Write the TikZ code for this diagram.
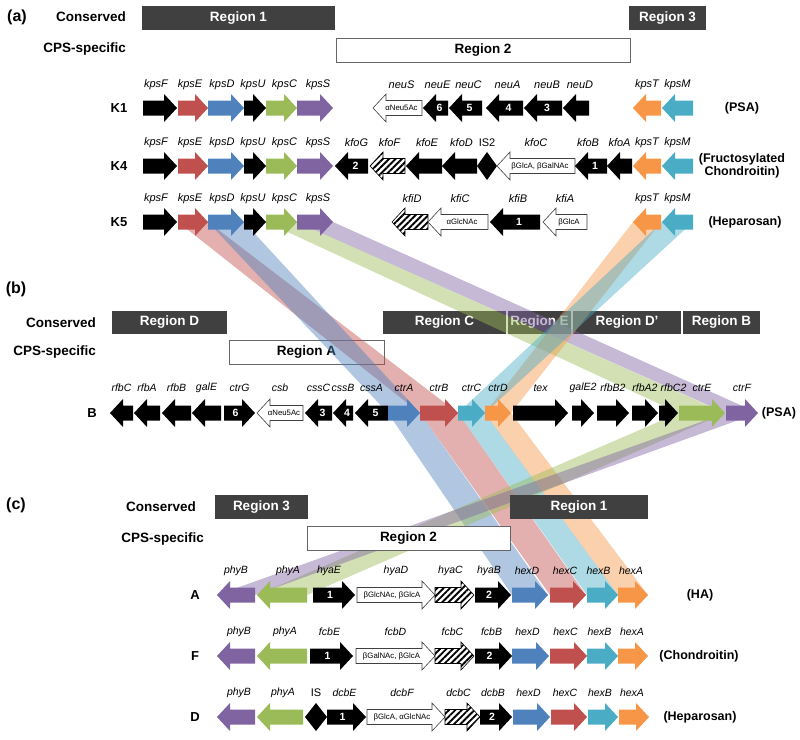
\documentclass[tikz,border=0pt]{standalone}
\usepackage{fontspec}
\setmainfont{Liberation Sans}
\usetikzlibrary{patterns.meta}

\definecolor{kred}{RGB}{192,80,77}
\definecolor{kblue}{RGB}{79,129,189}
\definecolor{kgreen}{RGB}{155,187,89}
\definecolor{kpurple}{RGB}{128,100,162}
\definecolor{kteal}{RGB}{75,172,198}
\definecolor{korange}{RGB}{247,150,70}
\definecolor{kdark}{RGB}{64,64,64}

\pgfdeclarelayer{boxb}
\pgfdeclarelayer{bands}
\pgfsetlayers{boxb,bands,main}

\tikzset{
  gtext/.style={inner sep=0pt, text=white, font=\fontsize{10.5}{10.5}\selectfont\bfseries},
  gname/.style={inner sep=0pt, font=\fontsize{11}{12}\selectfont\itshape},
  isname/.style={inner sep=0pt, font=\fontsize{11}{12}\selectfont},
  blk/.style={fill=black},
  hollow/.style={fill=white, draw=black!75, line width=0.6pt},
  hatch/.style={draw=black, line width=0.6pt, preaction={fill=white},
    pattern={Lines[angle=45,distance=4.5pt,line width=1.9pt]}},
  cons/.style={fill=kdark, text=white, inner sep=0pt, minimum height=24pt,
    font=\fontsize{13.5}{14}\selectfont\bfseries},
  spec/.style={fill=white, draw=black!60, line width=0.8pt, inner sep=0pt,
    minimum height=24pt, font=\fontsize{13.5}{14}\selectfont\bfseries},
  tag/.style={inner sep=0pt, font=\fontsize{13.5}{14}\selectfont\bfseries},
  strain/.style={inner sep=0pt, font=\fontsize{13}{14}\selectfont\bfseries},
  poly/.style={inner sep=0pt, align=center, font=\fontsize{12.5}{13.5}\selectfont\bfseries},
  panel/.style={inner sep=0pt, font=\fontsize{16}{16}\selectfont\bfseries}
}

\def\lift{23}
\newcommand{\sug}[1]{{\color{black}\fontsize{7.8}{8}\selectfont\mdseries #1}}
% right pointing gene: [label shift] name, x1, x2, y, style, inside, label
\newcommand{\genr}[8][0]{%
  \fill[#6] (#3,#5-7.5) -- (#4-13,#5-7.5) -- (#4-13,#5-14) -- (#4,#5)
    -- (#4-13,#5+14) -- (#4-13,#5+7.5) -- (#3,#5+7.5) -- cycle;
  \coordinate (#2-a) at (#3,#5);
  \coordinate (#2-b) at (#4,#5);
  \node[gtext] (#2) at ({(#3+#4)/2-4},#5) {#7};
  \node[gname] (#2-t) at ({(#3+#4)/2+#1},#5-\lift) {#8};
}
% left pointing gene
\newcommand{\genl}[8][0]{%
  \fill[#6] (#4,#5-7.5) -- (#3+13,#5-7.5) -- (#3+13,#5-14) -- (#3,#5)
    -- (#3+13,#5+14) -- (#3+13,#5+7.5) -- (#4,#5+7.5) -- cycle;
  \coordinate (#2-a) at (#3,#5);
  \coordinate (#2-b) at (#4,#5);
  \node[gtext] (#2) at ({(#3+#4)/2+4},#5) {#7};
  \node[gname] (#2-t) at ({(#3+#4)/2+#1},#5-\lift) {#8};
}
% insertion sequence
\newcommand{\insq}[5]{%
  \fill[blk] (#2,#4) -- ({(#2+#3)/2},#4-14) -- (#3,#4) -- ({(#2+#3)/2},#4+14) -- cycle;
  \coordinate (#1) at ({(#2+#3)/2},#4);
  \node[isname] (#1-t) at ({(#2+#3)/2},#4-\lift) {#5};
}
\newcommand{\gband}[3]{%
  \fill[#1, fill opacity=0.45] (#2-a) -- (#2-b) -- (#3-b) -- (#3-a) -- cycle;
}

\begin{document}
\begin{tikzpicture}[x=1pt,y=-1pt]
\useasboundingbox (0,0) rectangle (800,739);

% (a)
\node[panel] (pa) at (17,17) {(a)};
\node[tag, anchor=east] (ca) at (126,17) {Conserved};
\node[tag, anchor=east] (sa) at (126,49) {CPS-specific};
\node[cons, minimum width=193pt] (a1) at (238.5,18) {Region 1};
\node[cons, minimum width=77pt] (a3) at (667.5,18) {Region 3};
\node[spec, minimum width=294pt] (a2) at (483,50) {Region 2};

\node[strain] (k1) at (119,108) {K1};
\node[poly] (k1p) at (742,108) {(PSA)};
\genr[-4]{k1-kpsF}{143}{177}{108}{blk}{}{kpsF}
\genr[-3]{k1-kpsE}{178}{208}{108}{fill=kred}{}{kpsE}
\genr[-4]{k1-kpsD}{208}{244}{108}{fill=kblue}{}{kpsD}
\genr[-2]{k1-kpsU}{244}{266}{108}{blk}{}{kpsU}
\genr[3]{k1-kpsC}{266}{297}{108}{fill=kgreen}{}{kpsC}
\genr[3]{k1-kpsS}{297}{333}{108}{fill=kpurple}{}{kpsS}
\genl[4]{k1-neuS}{373}{422}{108}{hollow}{\sug{αNeu5Ac}}{neuS}
\genl[2]{k1-neuE}{423}{448}{108}{blk}{6}{neuE}
\genl[3]{k1-neuC}{449}{482}{108}{blk}{5}{neuC}
\genl[3]{k1-neuA}{486}{523}{108}{blk}{4}{neuA}
\genl[4]{k1-neuB}{524}{562}{108}{blk}{3}{neuB}
\genl[4]{k1-neuD}{563}{589}{108}{blk}{}{neuD}
\genl{k1-kpsT}{633}{661}{108}{fill=korange}{}{kpsT}
\genl{k1-kpsM}{662}{693}{108}{fill=kteal}{}{kpsM}

\node[strain] (k4) at (119,166) {K4};
\node[poly] (k4p) at (742,166) {(Fructosylated\\Chondroitin)};
\genr[-4]{k4-kpsF}{143}{177}{166}{blk}{}{kpsF}
\genr[-3]{k4-kpsE}{178}{208}{166}{fill=kred}{}{kpsE}
\genr[-4]{k4-kpsD}{208}{244}{166}{fill=kblue}{}{kpsD}
\genr[-2]{k4-kpsU}{244}{266}{166}{blk}{}{kpsU}
\genr[3]{k4-kpsC}{266}{297}{166}{fill=kgreen}{}{kpsC}
\genr[3]{k4-kpsS}{297}{333}{166}{fill=kpurple}{}{kpsS}
\genl[5]{k4-kfoG}{335}{368}{166}{blk}{2}{kfoG}
\genl[2]{k4-kfoF}{370}{405}{166}{hatch}{}{kfoF}
\genl[3]{k4-kfoE}{406}{442}{166}{blk}{}{kfoE}
\genl[2]{k4-kfoD}{442}{477}{166}{blk}{}{kfoD}
\insq{k4-IS2}{477}{497}{166}{IS2}
\genl{k4-kfoC}{497}{575}{166}{hollow}{\sug{βGlcA, βGalNAc}}{kfoC}
\genl[-3]{k4-kfoB}{575}{607}{166}{blk}{1}{kfoB}
\genl{k4-kfoA}{607}{632}{166}{blk}{}{kfoA}
\genl{k4-kpsT}{633}{661}{166}{fill=korange}{}{kpsT}
\genl{k4-kpsM}{662}{693}{166}{fill=kteal}{}{kpsM}

\node[strain] (k5) at (119,222) {K5};
\node[poly] (k5p) at (745,222) {(Heparosan)};
\genr[-4]{k5-kpsF}{143}{177}{222}{blk}{}{kpsF}
\genr[-3]{k5-kpsE}{178}{208}{222}{fill=kred}{}{kpsE}
\genr[-4]{k5-kpsD}{208}{244}{222}{fill=kblue}{}{kpsD}
\genr[-2]{k5-kpsU}{244}{266}{222}{blk}{}{kpsU}
\genr[3]{k5-kpsC}{266}{297}{222}{fill=kgreen}{}{kpsC}
\genr[3]{k5-kpsS}{297}{333}{222}{fill=kpurple}{}{kpsS}
\genl[2]{k5-kfiD}{392}{428}{222}{hatch}{}{kfiD}
\genl[2]{k5-kfiC}{428}{488}{222}{hollow}{\sug{αGlcNAc}}{kfiC}
\genl[3]{k5-kfiB}{490}{540}{222}{blk}{1}{kfiB}
\genl{k5-kfiA}{543}{587}{222}{hollow}{\sug{βGlcA}}{kfiA}
\genl{k5-kpsT}{633}{661}{222}{fill=korange}{}{kpsT}
\genl{k5-kpsM}{662}{693}{222}{fill=kteal}{}{kpsM}

% (b)
\node[panel] (pb) at (16,289) {(b)};
\node[tag, anchor=east] (cb) at (96,323) {Conserved};
\node[tag, anchor=east] (sb) at (96,352) {CPS-specific};
\begin{pgfonlayer}{boxb}
\node[cons, minimum width=115pt, minimum height=23pt] (bD) at (169.5,322.5) {Region D};
\node[cons, minimum width=123pt, minimum height=23pt] (bC) at (444.5,322.5) {Region C};
\node[cons, minimum width=63pt, minimum height=23pt] (bE) at (539.5,322.5) {Region E};
\node[cons, minimum width=108pt, minimum height=23pt] (bD2) at (627,322.5) {Region D’};
\node[cons, minimum width=77pt, minimum height=23pt] (bB) at (721.5,322.5) {Region B};
\node[spec, minimum width=155pt] (bA) at (306.5,352) {Region A};
\end{pgfonlayer}

\def\lift{25}
\tikzset{gname/.append style={font=\fontsize{10.5}{11}\selectfont\itshape}}
\node[strain] (b) at (92,413) {B};
\node[poly] (bp) at (779,413) {(PSA)};
\genl{b-rfbC}{110}{133}{413}{blk}{}{rfbC}
\genl{b-rfbA}{134}{160}{413}{blk}{}{rfbA}
\genl{b-rfbB}{162}{191}{413}{blk}{}{rfbB}
\genl{b-galE}{192}{221}{413}{blk}{}{galE}
\genr{b-ctrG}{224}{255}{413}{blk}{6}{ctrG}
\genl{b-csb}{257}{303}{413}{hollow}{\sug{αNeu5Ac}}{csb}
\genl{b-cssC}{305}{332}{413}{blk}{3}{cssC}
\genl{b-cssB}{333}{353}{413}{blk}{4}{cssB}
\genl{b-cssA}{355}{388}{413}{blk}{5}{cssA}
\genr{b-ctrA}{388}{420}{413}{fill=kblue}{}{ctrA}
\genr{b-ctrB}{420}{458}{413}{fill=kred}{}{ctrB}
\genr{b-ctrC}{458}{485}{413}{fill=kteal}{}{ctrC}
\genr{b-ctrD}{485}{511}{413}{fill=korange}{}{ctrD}
\genr{b-tex}{513}{568}{413}{blk}{}{tex}
\genr{b-galE2}{572}{594}{413}{blk}{}{galE2}
\genr{b-rfbB2}{597}{629}{413}{blk}{}{rfbB2}
\genr{b-rfbA2}{632}{658}{413}{blk}{}{rfbA2}
\genr[5]{b-rfbC2}{659}{678}{413}{blk}{}{rfbC2}
\genr{b-ctrE}{679}{725}{413}{fill=kgreen}{}{ctrE}
\genr{b-ctrF}{726}{758}{413}{fill=kpurple}{}{ctrF}

% (c)
\def\lift{24}
\node[panel] (pc) at (16,505) {(c)};
\node[tag, anchor=east] (cc) at (196,507) {Conserved};
\node[tag, anchor=east] (sc) at (204,539) {CPS-specific};

\node[strain] (a) at (195,595) {A};
\node[poly] (ap) at (700,595) {(HA)};
\genl{a-phyB}{217}{255}{595}{fill=kpurple}{}{phyB}
\genl[6]{a-phyA}{257}{307}{595}{fill=kgreen}{}{phyA}
\genr[-5]{a-hyaE}{313}{355}{595}{blk}{1}{hyaE}
\genr{a-hyaD}{357}{435}{595}{hollow}{\sug{βGlcNAc, βGlcA}}{hyaD}
\genr[-4]{a-hyaC}{435}{474}{595}{hatch}{}{hyaC}
\genr[-4]{a-hyaB}{475}{511}{595}{blk}{2}{hyaB}
\genr[-3]{a-hexD}{512}{548}{595}{fill=kblue}{}{hexD}
\genr[-3]{a-hexC}{550}{586}{595}{fill=kred}{}{hexC}
\genr[-4]{a-hexB}{587}{618}{595}{fill=kteal}{}{hexB}
\genr[-2]{a-hexA}{618}{648}{595}{fill=korange}{}{hexA}

\node[strain] (f) at (195,656) {F};
\node[poly] (fp) at (699,656) {(Chondroitin)};
\genl[3]{f-phyB}{217}{255}{656}{fill=kpurple}{}{phyB}
\genl[3]{f-phyA}{257}{307}{656}{fill=kgreen}{}{phyA}
\genr[-2]{f-fcbE}{310}{353}{656}{blk}{1}{fcbE}
\genr{f-fcbD}{356}{435}{656}{hollow}{\sug{βGalNAc, βGlcA}}{fcbD}
\genr[-2]{f-fcbC}{435}{474}{656}{hatch}{}{fcbC}
\genr[-2]{f-fcbB}{475}{512}{656}{blk}{2}{fcbB}
\genr[-3]{f-hexD}{512}{549}{656}{fill=kblue}{}{hexD}
\genr[-3]{f-hexC}{550}{587}{656}{fill=kred}{}{hexC}
\genr[-3]{f-hexB}{587}{618}{656}{fill=kteal}{}{hexB}
\genr[-1]{f-hexA}{618}{648}{656}{fill=korange}{}{hexA}

\node[strain] (d) at (195,717) {D};
\node[poly] (dp) at (700,717) {(Heparosan)};
\genl[3]{d-phyB}{217}{255}{717}{fill=kpurple}{}{phyB}
\genl[3]{d-phyA}{257}{303}{717}{fill=kgreen}{}{phyA}
\insq{d-IS}{305}{327}{717}{IS}
\genr[-2]{d-dcbE}{327}{366}{717}{blk}{1}{dcbE}
\genr[-4]{d-dcbF}{367}{445}{717}{hollow}{\sug{βGlcA, αGlcNAc}}{dcbF}
\genr[-4]{d-dcbC}{445}{480}{717}{hatch}{}{dcbC}
\genr[-3]{d-dcbB}{480}{512}{717}{blk}{2}{dcbB}
\genr[-3]{d-hexD}{513}{550}{717}{fill=kblue}{}{hexD}
\genr[-4]{d-hexC}{551}{587}{717}{fill=kred}{}{hexC}
\genr[-3]{d-hexB}{588}{618}{717}{fill=kteal}{}{hexB}
\genr[-2]{d-hexA}{619}{649}{717}{fill=korange}{}{hexA}

% bands between the clusters
\begin{pgfonlayer}{bands}
\gband{kred}{k5-kpsE}{b-ctrB}
\gband{kblue}{k5-kpsD}{b-ctrA}
\gband{kgreen}{k5-kpsC}{b-ctrE}
\gband{kpurple}{k5-kpsS}{b-ctrF}
\gband{korange}{k5-kpsT}{b-ctrD}
\gband{kteal}{k5-kpsM}{b-ctrC}
\gband{kblue}{b-ctrA}{a-hexD}
\gband{kred}{b-ctrB}{a-hexC}
\gband{kteal}{b-ctrC}{a-hexB}
\gband{korange}{b-ctrD}{a-hexA}
\gband{kgreen}{b-ctrE}{a-phyA}
\gband{kpurple}{b-ctrF}{a-phyB}
\end{pgfonlayer}

\node[cons, minimum width=93pt] (c3) at (261.5,507) {Region 3};
\node[cons, minimum width=138pt] (c1) at (579,507) {Region 1};
\node[spec, minimum width=203pt] (c2) at (408.5,538) {Region 2};
\end{tikzpicture}
\end{document}
